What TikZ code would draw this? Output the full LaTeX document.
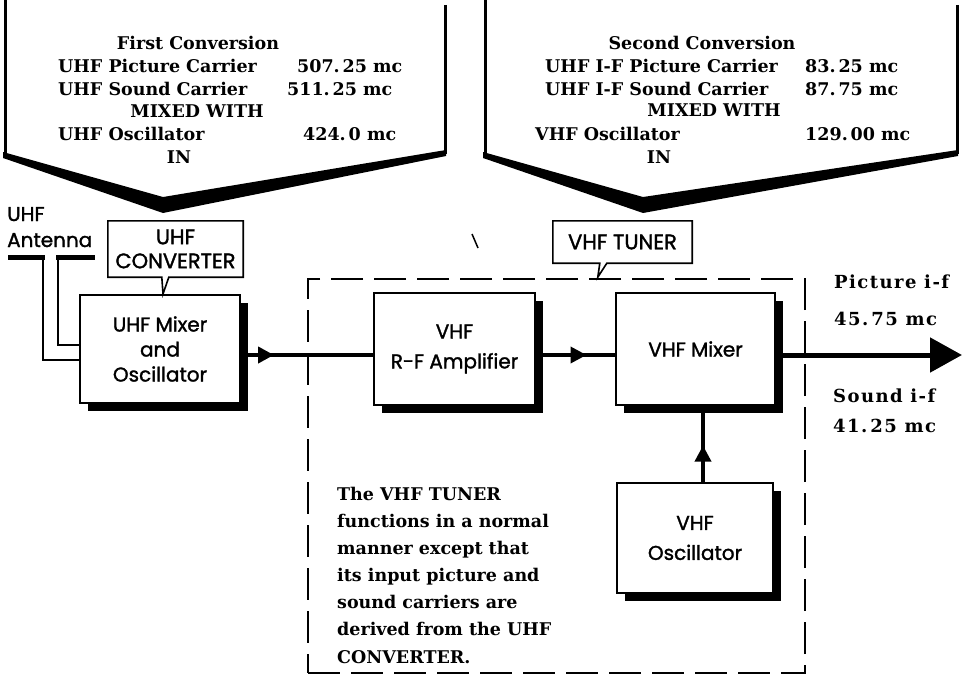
\documentclass[tikz,border=0pt]{standalone}
\usepackage{fontspec}
\usetikzlibrary{shadows,arrows.meta,decorations.markings,calc}
\newfontfamily\dvserif{DejaVu Serif}
\newfontfamily\dvserifsp{DejaVu Serif}[LetterSpace=8]
\newfontfamily\popsans{Poppins}[FakeBold=1.5]
\begin{document}
\begin{tikzpicture}[x=1pt,y=-1pt,
  blk/.style={draw,line width=2pt,fill=white,inner sep=0pt,align=center,
    font={\popsans\fontsize{20}{30}\selectfont},
    drop shadow={shadow xshift=8pt,shadow yshift=-8pt,opacity=1,fill=black}},
  lbl/.style={inner sep=0pt,align=center,font={\popsans\fontsize{21}{24}\selectfont}},
  sertxt/.style={inner sep=0pt,anchor=base west,font={\dvserif\bfseries\fontsize{17.5}{22}\selectfont}},
  outtxt/.style={inner sep=0pt,anchor=base west,font={\dvserifsp\bfseries\fontsize{18}{22}\selectfont}},
  santxt/.style={inner sep=0pt,anchor=base west,font={\popsans\fontsize{20}{24}\selectfont}},
  callline/.style={line width=1.6pt,line join=miter},
  vline/.style={line width=3pt},
  midarrow/.style 2 args={postaction={decorate},decoration={markings,
    mark=at position #1 with {\arrow{Triangle[length=#2pt,width=#2pt]}}}}
]
\useasboundingbox (0,0) rectangle (968,677);

% ---------- top callouts ----------
\draw[vline] (5,0) -- (5,155);
\draw[vline] (445,5) -- (445,154);
\fill (3,152) -- (163,197) -- (446,150) -- (446,156) -- (163,213) -- (3,158) -- cycle;

\draw[vline] (485,0) -- (485,155);
\draw[vline] (957,5) -- (957,154);
\fill (483,152) -- (643,197) -- (958,150) -- (958,156) -- (643,213) -- (483,158) -- cycle;

\node[sertxt,anchor=base] (c1t) at (198,50) {First Conversion};
\node[sertxt] (c1p) at (58,72) {UHF Picture Carrier};
\node[sertxt] (c1pv) at (297,72) {507.\,25 mc};
\node[sertxt] (c1s) at (58,95) {UHF Sound Carrier};
\node[sertxt] (c1sv) at (287,95) {511.\,25 mc};
\node[sertxt,anchor=base] (c1m) at (197,117) {MIXED WITH};
\node[sertxt] (c1o) at (58,140) {UHF Oscillator};
\node[sertxt] (c1ov) at (303,140) {424.\,0 mc};
\node[sertxt,anchor=base] (c1i) at (179,163) {IN};

\node[sertxt,anchor=base] (c2t) at (702,50) {Second Conversion};
\node[sertxt] (c2p) at (545,72) {UHF I-F Picture Carrier};
\node[sertxt] (c2pv) at (805,72) {83.\,25 mc};
\node[sertxt] (c2s) at (545,95) {UHF I-F Sound Carrier};
\node[sertxt] (c2sv) at (805,95) {87.\,75 mc};
\node[sertxt,anchor=base] (c2m) at (714,116) {MIXED WITH};
\node[sertxt] (c2o) at (535,140) {VHF Oscillator};
\node[sertxt] (c2ov) at (805,140) {129.\,00 mc};
\node[sertxt,anchor=base] (c2i) at (659,163) {IN};

% stray mark
\draw[line width=1.5pt] (472,234) -- (478,248);

% ---------- tuner dashed box ----------
\node[draw,dash pattern=on 32pt off 11pt,line width=2pt,minimum width=497pt,minimum height=394pt,inner sep=0pt] (tunerbox) at (556.5,476) {};

% ---------- blocks ----------
\node[blk,minimum width=160pt,minimum height=108pt] (uhfbox) at (160,349) {UHF Mixer\\[-5pt]and\\[-5pt]Oscillator};
\node[blk,minimum width=161pt,minimum height=112pt] (rfbox) at (454.5,349) {VHF\\R-F Amplifier};
\node[blk,minimum width=159pt,minimum height=112pt] (mixbox) at (695.5,349) {VHF Mixer};
\node[blk,minimum width=156pt,minimum height=110pt] (oscbox) at (695,538) {VHF\\Oscillator};

% ---------- callout labels ----------
\node[lbl,minimum width=135pt,minimum height=56pt] (convlbl) at (175.5,249) {UHF\\CONVERTER};
\draw[callline] (convlbl.south west) -- (convlbl.north west) -- (convlbl.north east) -- (convlbl.south east)
  -- ($(convlbl.south west)+(61,0)$) -- ($(uhfbox.north)+(3,0)$) -- ($(convlbl.south west)+(54,0)$) -- cycle;

\node[lbl,minimum width=139pt,minimum height=42pt] (tunerlbl) at (622.5,242) {VHF TUNER};
\draw[callline] (tunerlbl.south west) -- (tunerlbl.north west) -- (tunerlbl.north east) -- (tunerlbl.south east)
  -- ($(tunerlbl.south west)+(54,0)$) -- ($(tunerlbl.south west)+(45,14)$) -- ($(tunerlbl.south west)+(47,0)$) -- cycle;

% ---------- antenna ----------
\node[santxt] (antA) at (7,221) {UHF};
\node[santxt] (antB) at (7,247) {Antenna};
\coordinate (a1) at (43,360);
\coordinate (a2) at (58,345);
\draw[line width=5pt] (8,257) -- (45,257);
\draw[line width=5pt] (56,257) -- (95,257);
\draw[line width=2.5pt] (43,255) -- (a1) -- (a1 -| uhfbox.west);
\draw[line width=2.5pt] (58,255) -- (a2) -- (a2 -| uhfbox.west);

% ---------- connectors ----------
\draw[line width=4.5pt,midarrow={0.25}{16}] ($(uhfbox.east)+(0,6)$) -- ($(rfbox.west)+(0,6)$);
\draw[line width=3.5pt,midarrow={0.64}{16}] ($(rfbox.east)+(0,6)$) -- ($(mixbox.west)+(0,6)$);
\coordinate (xl) at (703,0);
\draw[line width=3.5pt,midarrow={0.48}{16}] (oscbox.north -| xl) -- (mixbox.south -| xl);
\coordinate (outtip) at (962,355);
\draw[line width=5pt,-{Triangle[length=32pt,width=34pt]}] ($(mixbox.east)+(0,6)$) -- (outtip);

% ---------- output labels ----------
\node[outtxt] (pif) at (834,288) {Picture i-f};
\node[outtxt] (pifv) at (834,325) {45.\,75 mc};
\node[outtxt] (sif) at (833,402) {Sound i-f};
\node[outtxt] (sifv) at (833,432) {41.\,25 mc};

% ---------- note ----------
\node[sertxt] (n1) at (337,500) {The VHF TUNER};
\node[sertxt] (n2) at (337,527) {functions in a normal};
\node[sertxt] (n3) at (337,554) {manner except that};
\node[sertxt] (n4) at (337,581) {its input picture and};
\node[sertxt] (n5) at (337,608) {sound carriers are};
\node[sertxt] (n6) at (337,635) {derived from the UHF};
\node[sertxt] (n7) at (337,663) {CONVERTER.};
\end{tikzpicture}
\end{document}
